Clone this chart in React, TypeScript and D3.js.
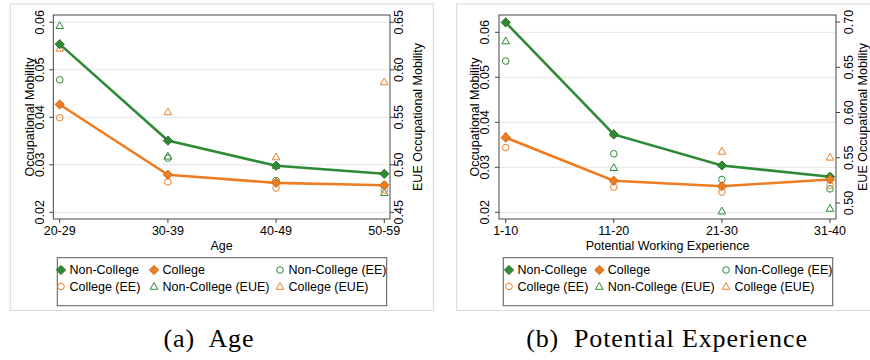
import * as d3 from 'd3';

const ageCats = ['20-29', '30-39', '40-49', '50-59'];
const ageNonCollege = [0.0554, 0.0351, 0.0298, 0.0281];
const ageCollege = [0.0427, 0.0279, 0.0262, 0.0257];
const ageNonCollegeEE = [0.0479, 0.0314, 0.0267, 0.0257];
const ageCollegeEE = [0.0399, 0.0264, 0.0251, 0.0247];
const ageNonCollegeEUE = [0.6464, 0.509, 0.499, 0.4707];
const ageCollegeEUE = [0.6226, 0.5556, 0.5082, 0.5872];

const expCats = ['1-10', '11-20', '21-30', '31-40'];
const expNonCollege = [0.0622, 0.0373, 0.0304, 0.0279];
const expCollege = [0.0366, 0.027, 0.0258, 0.0273];
const expNonCollegeEE = [0.0536, 0.033, 0.0273, 0.0252];
const expCollegeEE = [0.0344, 0.0256, 0.0245, 0.026];
const expNonCollegeEUE = [0.679, 0.539, 0.491, 0.494];
const expCollegeEUE = [0.574, 0.577, 0.557, 0.5505];

const leftTicks = [0.02, 0.03, 0.04, 0.05, 0.06];
const ageRightTicks = [0.45, 0.5, 0.55, 0.6, 0.65];
const expRightTicks = [0.5, 0.55, 0.6, 0.65, 0.7];

const GREEN = '#2f8a35';
const GREEN_DARK = '#2b6e30';
const ORANGE = '#ee7d22';
const FONT = '"Liberation Sans", Arial, Helvetica, sans-serif';

type PanelProps = {
  plotLeft: number;
  plotRight: number;
  xFirst: number;
  xLast: number;
  cats: string[];
  nonCollege: number[];
  college: number[];
  nonCollegeEE: number[];
  collegeEE: number[];
  nonCollegeEUE: number[];
  collegeEUE: number[];
  leftRange: [number, number];
  rightDomain: [number, number];
  rightRange: [number, number];
  rightTicks: number[];
  xTitle: string;
  leftLabelX: number;
  leftTitleX: number;
  rightLabelX: number;
  rightTitleX: number;
  legendX: number;
  legendW: number;
  legendCols: number[];
  frame: [number, number];
  caption: string;
  captionX: number;
};

const plotTop = 15;
const plotBottom = 219;

function diamond(x: number, y: number, r: number) {
  return `M${x},${y - r}L${x + r},${y}L${x},${y + r}L${x - r},${y}Z`;
}
function triangle(x: number, y: number, r: number) {
  return `M${x},${y - r}L${x + r * 0.95},${y + r * 0.7}L${x - r * 0.95},${y + r * 0.7}Z`;
}

function Marker({ kind, color, x, y }: { kind: string; color: string; x: number; y: number }) {
  if (kind === 'diamond') {
    const dark = color === GREEN ? GREEN_DARK : '#d0651a';
    return <path d={diamond(x, y, 4.6)} fill={color} stroke={dark} strokeWidth={1} />;
  }
  if (kind === 'circle') {
    return <circle cx={x} cy={y} r={3.3} fill="none" stroke={color} strokeWidth={1} />;
  }
  return <path d={triangle(x, y, 4)} fill="none" stroke={color} strokeWidth={1} />;
}

function Panel(p: PanelProps) {
  const x = d3.scalePoint<string>().domain(p.cats).range([p.xFirst, p.xLast]);
  const yL = d3.scaleLinear().domain([0.02, 0.06]).range(p.leftRange);
  const yR = d3.scaleLinear().domain(p.rightDomain).range(p.rightRange);
  const line = d3
    .line<number>()
    .x((_, i) => x(p.cats[i])!)
    .y((d) => yL(d));

  const legendItems = [
    { kind: 'diamond', color: GREEN, label: 'Non-College' },
    { kind: 'diamond', color: ORANGE, label: 'College' },
    { kind: 'circle', color: GREEN, label: 'Non-College (EE)' },
    { kind: 'circle', color: ORANGE, label: 'College (EE)' },
    { kind: 'triangle', color: GREEN, label: 'Non-College (EUE)' },
    { kind: 'triangle', color: ORANGE, label: 'College (EUE)' }
  ];
  const midY = (plotTop + plotBottom) / 2;

  return (
    <g>
      <rect x={p.frame[0]} y={4} width={p.frame[1] - p.frame[0]} height={306.5} fill="#fff" stroke="#d8d8d8" strokeWidth={1} />
      {leftTicks.map((t) => (
        <line key={'g' + t} x1={p.plotLeft} x2={p.plotRight} y1={yL(t)} y2={yL(t)} stroke="#e6e6e6" strokeWidth={1} />
      ))}
      <rect x={p.plotLeft} y={plotTop} width={p.plotRight - p.plotLeft} height={plotBottom - plotTop} fill="none" stroke="#444" strokeWidth={1} />
      {/* left axis */}
      {leftTicks.map((t) => (
        <g key={'l' + t}>
          <line x1={p.plotLeft - 4} x2={p.plotLeft} y1={yL(t)} y2={yL(t)} stroke="#444" />
          <text
            transform={`translate(${p.leftLabelX},${yL(t)}) rotate(-90)`}
            textAnchor="middle"
            dominantBaseline="central"
            fontSize={12.5}
            fontFamily={FONT}
          >
            {t.toFixed(2)}
          </text>
        </g>
      ))}
      <text transform={`translate(${p.leftTitleX},${midY}) rotate(-90)`} textAnchor="middle" dominantBaseline="central" fontSize={12.5} fontFamily={FONT}>
        Occupational Mobility
      </text>
      {/* right axis */}
      {p.rightTicks.map((t) => (
        <g key={'r' + t}>
          <line x1={p.plotRight} x2={p.plotRight + 4} y1={yR(t)} y2={yR(t)} stroke="#444" />
          <text
            transform={`translate(${p.rightLabelX},${yR(t)}) rotate(-90)`}
            textAnchor="middle"
            dominantBaseline="central"
            fontSize={12.5}
            fontFamily={FONT}
          >
            {t.toFixed(2)}
          </text>
        </g>
      ))}
      <text transform={`translate(${p.rightTitleX},${midY}) rotate(-90)`} textAnchor="middle" dominantBaseline="central" fontSize={12.5} fontFamily={FONT}>
        EUE Occupational Mobility
      </text>
      {/* x axis */}
      {p.cats.map((c) => (
        <g key={'x' + c}>
          <line x1={x(c)!} x2={x(c)!} y1={plotBottom} y2={plotBottom + 4} stroke="#444" />
          <text x={x(c)!} y={235} textAnchor="middle" fontSize={12.5} fontFamily={FONT}>
            {c}
          </text>
        </g>
      ))}
      <text x={(p.plotLeft + p.plotRight) / 2} y={250} textAnchor="middle" fontSize={12.5} fontFamily={FONT}>
        {p.xTitle}
      </text>
      {/* series */}
      <path d={line(p.college)!} fill="none" stroke={ORANGE} strokeWidth={2.6} />
      <path d={line(p.nonCollege)!} fill="none" stroke={GREEN} strokeWidth={2.6} />
      {p.cats.map((c, i) => (
        <g key={'m' + c}>
          <Marker kind="triangle" color={GREEN} x={x(c)!} y={yR(p.nonCollegeEUE[i])} />
          <Marker kind="triangle" color={ORANGE} x={x(c)!} y={yR(p.collegeEUE[i])} />
          <Marker kind="circle" color={GREEN} x={x(c)!} y={yL(p.nonCollegeEE[i])} />
          <Marker kind="circle" color={ORANGE} x={x(c)!} y={yL(p.collegeEE[i])} />
          <Marker kind="diamond" color={GREEN} x={x(c)!} y={yL(p.nonCollege[i])} />
          <Marker kind="diamond" color={ORANGE} x={x(c)!} y={yL(p.college[i])} />
        </g>
      ))}
      {/* legend */}
      <rect x={p.legendX} y={257.7} width={p.legendW} height={48} fill="#fff" stroke="#555" strokeWidth={1} />
      {legendItems.map((it, i) => {
        const col = i % 3;
        const row = Math.floor(i / 3);
        const cy = 270 + row * 16.5;
        const mx = p.legendCols[col];
        return (
          <g key={it.label}>
            <Marker kind={it.kind} color={it.color} x={mx} y={cy} />
            <text x={mx + 8.5} y={cy} dominantBaseline="central" fontSize={12.5} fontFamily={FONT}>
              {it.label}
            </text>
          </g>
        );
      })}
      <text
        x={p.captionX}
        y={347}
        textAnchor="middle"
        fontSize={26}
        letterSpacing={0.9}
        fontFamily='"Liberation Serif", "Times New Roman", serif'
        style={{ whiteSpace: 'pre' }}
      >
        {p.caption}
      </text>
    </g>
  );
}

export default function App() {
  return (
    <svg width={870} height={360} style={{ position: 'absolute', left: 0, top: 0, background: '#fff' }}>
      <rect width={870} height={360} fill="#fff" />
      <Panel
        plotLeft={53.3}
        plotRight={390}
        xFirst={59.7}
        xLast={384.3}
        cats={ageCats}
        nonCollege={ageNonCollege}
        college={ageCollege}
        nonCollegeEE={ageNonCollegeEE}
        collegeEE={ageCollegeEE}
        nonCollegeEUE={ageNonCollegeEUE}
        collegeEUE={ageCollegeEUE}
        leftRange={[212.3, 22.3]}
        rightDomain={[0.45, 0.65]}
        rightRange={[212.3, 22.3]}
        rightTicks={ageRightTicks}
        xTitle="Age"
        leftLabelX={40}
        leftTitleX={30}
        rightLabelX={399}
        rightTitleX={417.5}
        legendX={57.3}
        legendW={329.4}
        legendCols={[61, 154, 280]}
        frame={[10.3, 433.3]}
        caption="(a)  Age"
        captionX={209}
      />
      <Panel
        plotLeft={499}
        plotRight={836}
        xFirst={505.7}
        xLast={830}
        cats={expCats}
        nonCollege={expNonCollege}
        college={expCollege}
        nonCollegeEE={expNonCollegeEE}
        collegeEE={expCollegeEE}
        nonCollegeEUE={expNonCollegeEUE}
        collegeEUE={expCollegeEUE}
        leftRange={[212.3, 32.3]}
        rightDomain={[0.5, 0.7]}
        rightRange={[203, 22]}
        rightTicks={expRightTicks}
        xTitle="Potential Working Experience"
        leftLabelX={485}
        leftTitleX={475}
        rightLabelX={849}
        rightTitleX={863}
        legendX={503.3}
        legendW={329.4}
        legendCols={[509, 599.3, 726]}
        frame={[456.7, 880]}
        caption="(b)  Potential Experience"
        captionX={667}
      />
    </svg>
  );
}
